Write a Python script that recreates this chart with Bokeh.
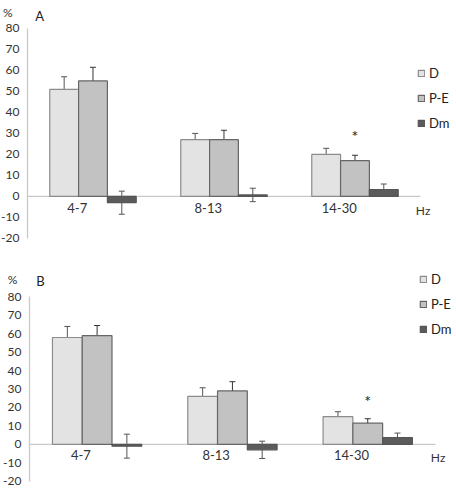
from bokeh.plotting import figure
from bokeh.layouts import column
from bokeh.models import (ColumnDataSource, Whisker, Legend, LegendItem,
                          FixedTicker, Range1d)
from bokeh.core.properties import value
from bokeh.embed import file_html
from bokeh.resources import INLINE

# Frequency bands and groups
bands = ["4-7", "8-13", "14-30"]
series = ["D", "P-E", "Dm"]

# Panel A: mean change (%) and error
a_D = [51, 27, 20]
a_PE = [55, 27, 17]
a_Dm = [-3, 0.7, 3.3]
a_D_err = [6, 3, 2.9]
a_PE_err = [6.5, 4.5, 2.6]
a_Dm_err = [5.5, 3.2, 2.6]

# Panel B
b_D = [58, 26, 15]
b_PE = [59, 29, 11.5]
b_Dm = [-1, -3, 3.7]
b_D_err = [6, 4.7, 2.7]
b_PE_err = [5.5, 5, 2.4]
b_Dm_err = [6.5, 4.7, 2.4]

y_ticks = [-20, -10, 0, 10, 20, 30, 40, 50, 60, 70, 80]

FONT = "Lato"
TXT = "#333333"
fills = {"D": "#e3e3e3", "P-E": "#c2c2c2", "Dm": "#5b5b5b"}
edges = {"D": "#8c8c8c", "P-E": "#666666", "Dm": "#555555"}
err_cols = {"D": "#555555", "P-E": "#333333", "Dm": "#555555"}
BAR_W = 0.22
offsets = {"D": -BAR_W, "P-E": 0.0, "Dm": BAR_W}


def panel(tag, vals, errs, x_range, y_range, height, star_y, unit_xy, tag_xy,
          legend_loc):
    p = figure(width=456, height=height, output_backend="svg",
               toolbar_location=None, x_range=Range1d(*x_range),
               y_range=Range1d(*y_range),
               min_border_left=0, min_border_right=0,
               min_border_top=0, min_border_bottom=0)
    p.outline_line_color = None
    p.xgrid.visible = False
    p.ygrid.visible = False
    p.xaxis.visible = False

    # value axis sits at the left edge of the first category
    ax = p.yaxis[0]
    ax.fixed_location = -0.5
    ax.ticker = FixedTicker(ticks=y_ticks)
    ax.major_label_overrides = {-20: "-20", -10: "-10"}
    ax.bounds = (-20, 80)
    ax.axis_line_color = "#c9c9c9"
    ax.axis_line_width = 1.3
    ax.major_tick_line_color = None
    ax.minor_tick_line_color = None
    ax.major_tick_out = 0
    ax.major_tick_in = 0
    ax.major_label_text_font = FONT
    ax.major_label_text_font_size = "12px"
    ax.major_label_text_color = TXT
    ax.major_label_standoff = 8

    # zero baseline across the categories
    p.segment(x0=[-0.5], y0=[0], x1=[2.5], y1=[0], line_color="#c9c9c9",
              line_width=1.3)

    xs = list(range(len(bands)))
    items = []
    for s in series:
        src = ColumnDataSource(dict(
            x=[x + offsets[s] for x in xs], top=vals[s],
            lo=[v - e for v, e in zip(vals[s], errs[s])],
            hi=[v + e for v, e in zip(vals[s], errs[s])]))
        r = p.vbar(x="x", top="top", bottom=0, width=BAR_W, source=src,
                   fill_color=fills[s], line_color=edges[s], line_width=1.2)
        w = Whisker(base="x", lower="lo", upper="hi", source=src,
                    line_color=err_cols[s], line_width=1)
        w.upper_head.size = 6
        w.lower_head.size = 6
        w.upper_head.line_color = err_cols[s]
        w.lower_head.line_color = err_cols[s]
        p.add_layout(w)
        items.append(LegendItem(label=s, renderers=[r]))

    # category labels and unit of the category axis
    p.text(x=[x - 0.12 for x in xs], y=[-3] * len(xs), text=bands,
           text_font=value(FONT), text_font_size="13px", text_color=TXT,
           text_align="center", text_baseline="top")
    p.text(x=[2.52], y=[-3], text=["Hz"], text_font=value(FONT),
           text_font_size="12px", text_color=TXT, text_align="center",
           text_baseline="top")

    # significance marker over P-E in the 14-30 band
    p.text(x=[2 + offsets["P-E"]], y=[star_y], text=["*"],
           text_font=value(FONT), text_font_size="16px", text_color="#222222",
           text_align="center", text_baseline="middle")

    # unit of the value axis and panel tag
    p.text(x=[unit_xy[0]], y=[unit_xy[1]], text=["%"], text_font=value(FONT),
           text_font_size="12px", text_color=TXT, text_align="center",
           text_baseline="middle")
    p.text(x=[tag_xy[0]], y=[tag_xy[1]], text=[tag], text_font=value(FONT),
           text_font_size="13px", text_color="#222222", text_align="center",
           text_baseline="middle")

    leg = Legend(items=items, location=legend_loc, orientation="vertical",
                 glyph_width=8, glyph_height=8, label_standoff=4,
                 label_text_font=FONT, label_text_font_size="13px",
                 label_text_color="#222222", label_height=20, spacing=5,
                 padding=0, margin=0, border_line_color=None,
                 background_fill_alpha=0)
    p.add_layout(leg)
    return p


pa = panel("A",
           {"D": a_D, "P-E": a_PE, "Dm": a_Dm},
           {"D": a_D_err, "P-E": a_PE_err, "Dm": a_Dm_err},
           x_range=(-0.706, 2.775), y_range=(-22.9, 93.3), height=244,
           star_y=29, unit_xy=(-0.65, 87.6), tag_xy=(-0.408, 85.7),
           legend_loc=(417, 111))
pb = panel("B",
           {"D": b_D, "P-E": b_PE, "Dm": b_Dm},
           {"D": b_D_err, "P-E": b_PE_err, "Dm": b_Dm_err},
           x_range=(-0.714, 2.656), y_range=(-24, 108.5), height=244,
           star_y=24, unit_xy=(-0.625, 89.6), tag_xy=(-0.418, 88.5),
           legend_loc=(419, 149))

layout = column(pa, pb, spacing=0)
open("out.html", "w").write(file_html(layout, INLINE))
